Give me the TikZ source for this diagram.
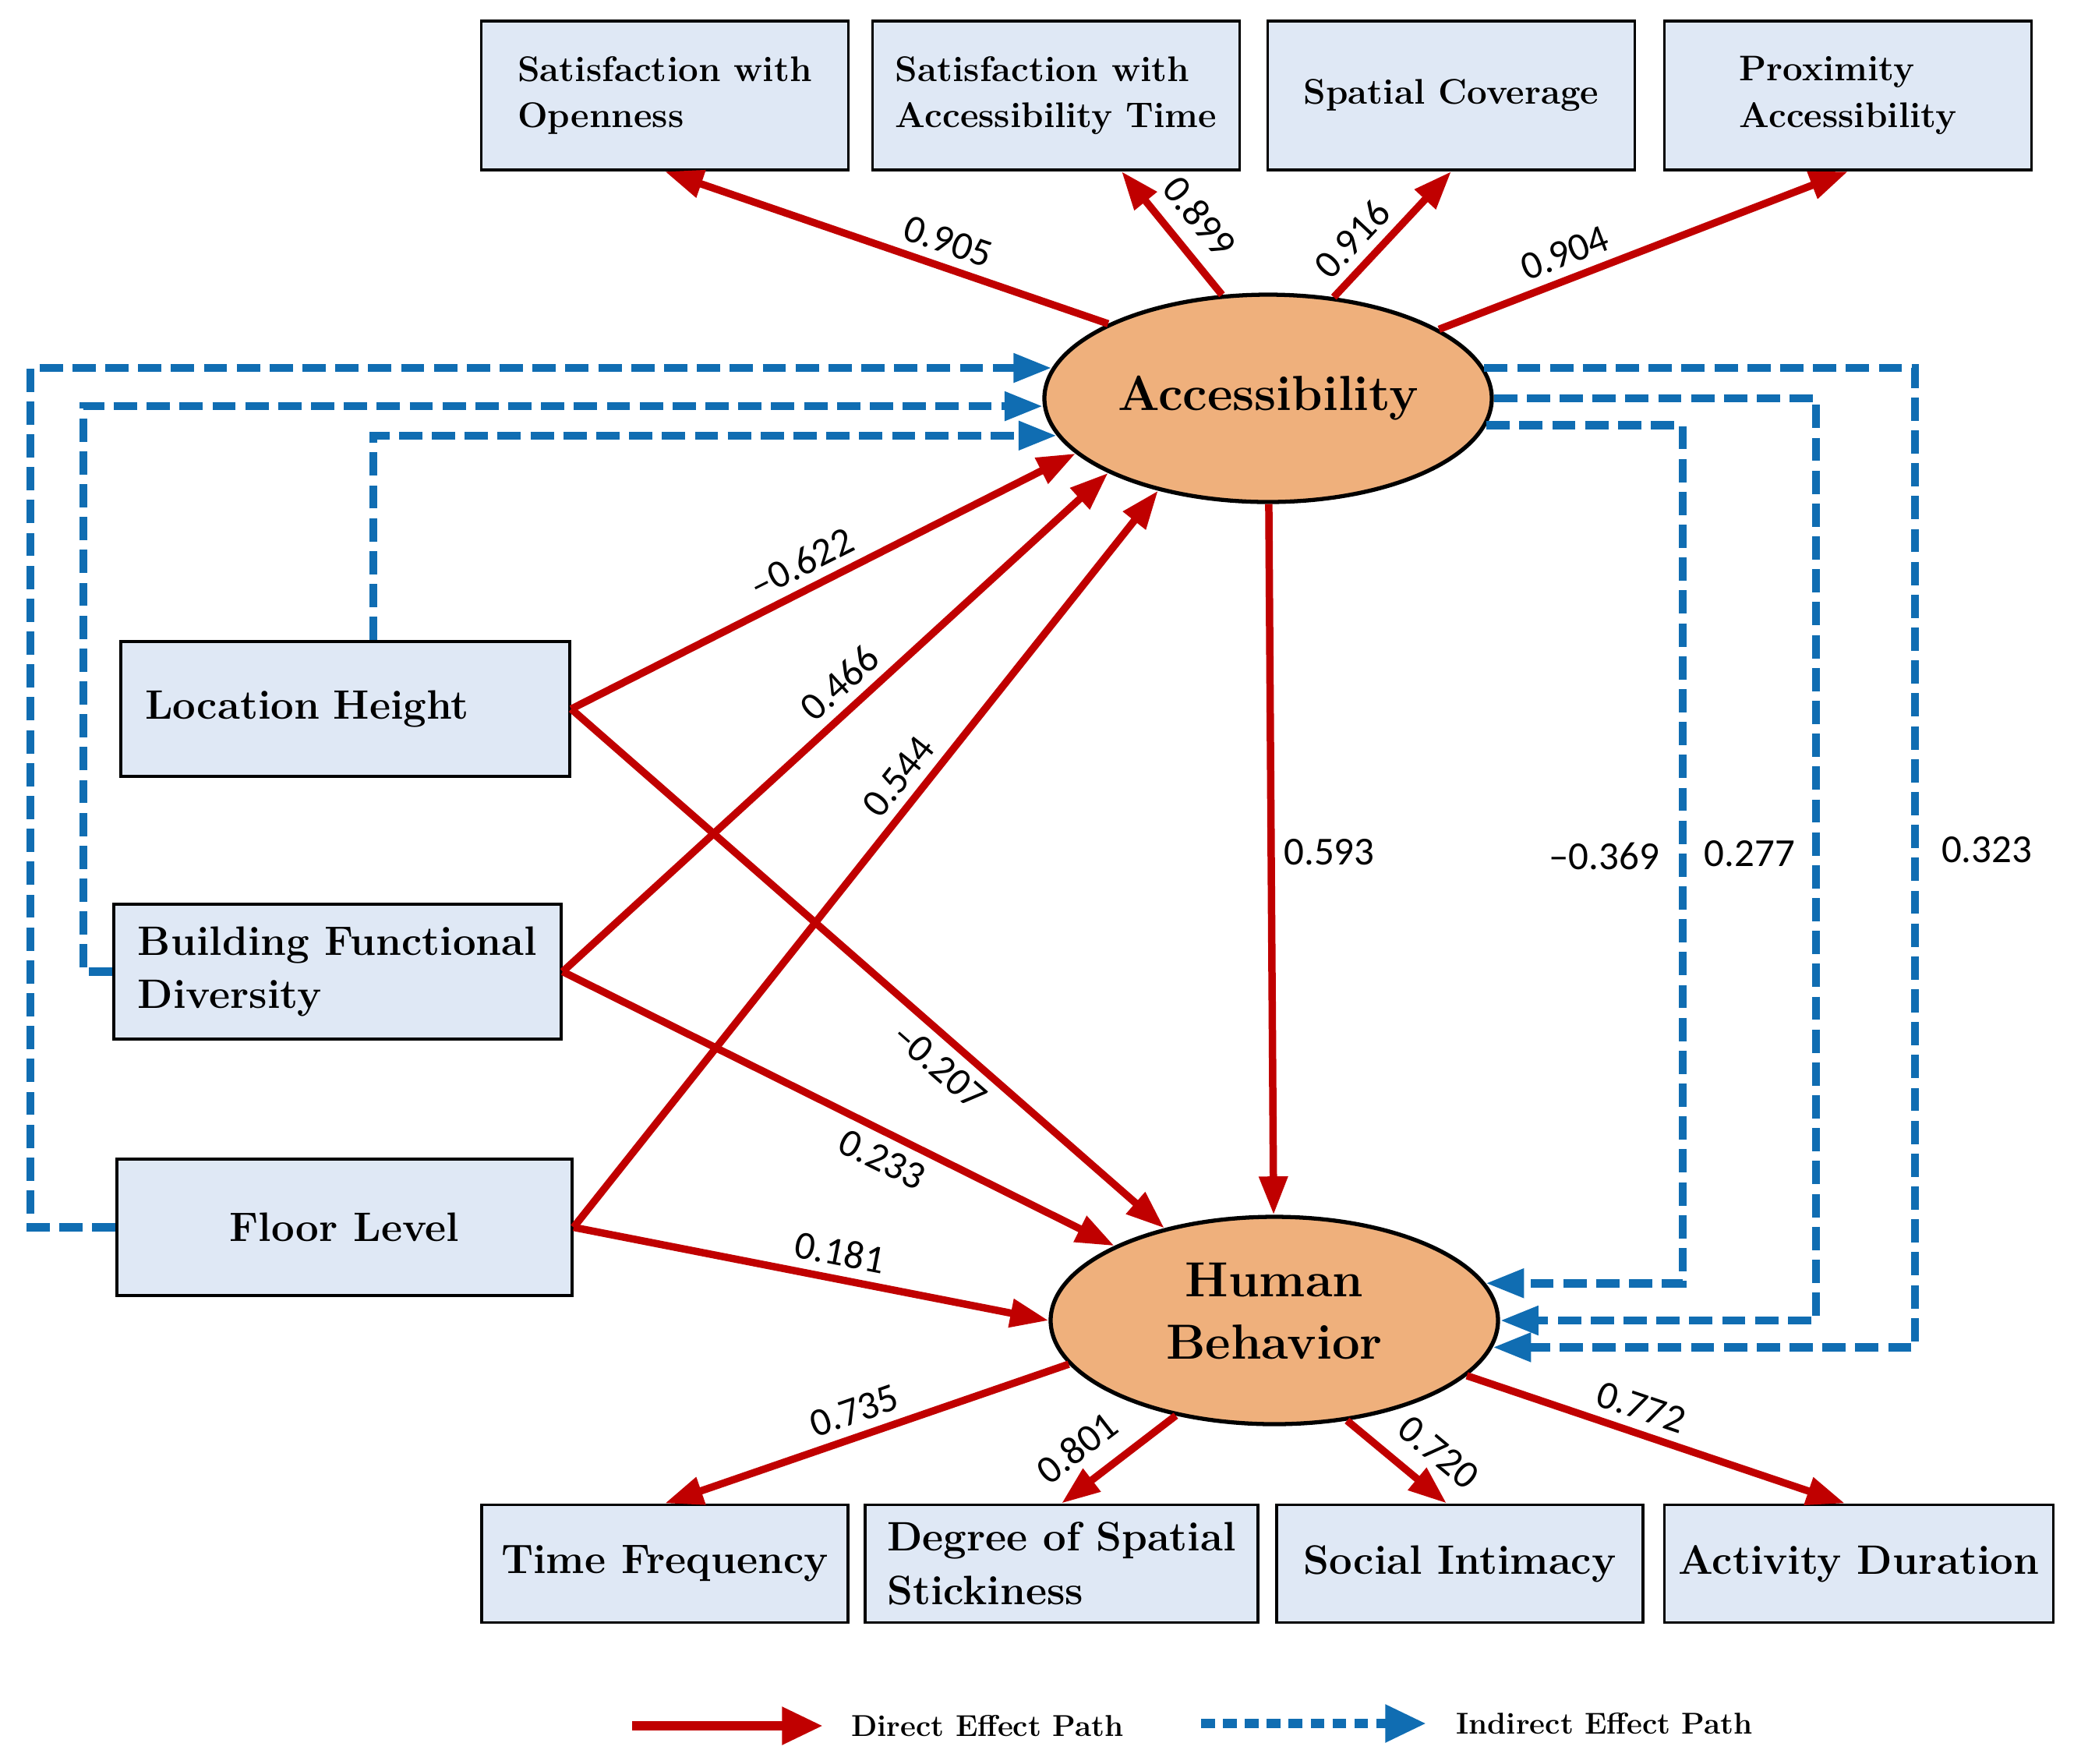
\documentclass[tikz,border=0pt]{standalone}
\usepackage{fontspec}
\newfontfamily\numfont{Carlito}
\usetikzlibrary{arrows.meta, shapes.geometric, positioning, calc}
\definecolor{pathred}{HTML}{C00000}
\definecolor{pathblue}{HTML}{106DB2}
\definecolor{boxblue}{HTML}{DFE8F5}
\definecolor{latentfill}{HTML}{EFB07C}
\tikzset{
	obsbox/.style={draw, line width=1.1pt, fill=boxblue, align=left, inner sep=0pt,
		minimum width=4.71cm, minimum height=1.91cm, font=\fontsize{13}{17}\selectfont\bfseries}
}
\tikzset{
	sidebox/.style={obsbox, minimum height=1.73cm, font=\fontsize{15}{19.5}\selectfont\bfseries}
}
\tikzset{
	latent/.style={ellipse, draw, line width=1.5pt, fill=latentfill, inner sep=0pt, align=center,
		minimum width=5.74cm, minimum height=2.66cm, font=\fontsize{18}{22.7}\selectfont\bfseries}
}
\tikzset{
	direct/.style={pathred, line width=2.7pt, -{Triangle[length=14pt,width=10pt]}},
	indirect/.style={pathblue, line width=3pt, dash pattern=on 8.5pt off 3.5pt, -{Triangle[length=14pt,width=10pt]}}
}
\tikzset{
	coef/.style={text=black, font=\numfont\fontsize{14.5}{17}\selectfont},
	legtext/.style={text=black, font=\fontsize{11}{13}\selectfont\bfseries}
}

\begin{document}
\begin{tikzpicture}
  \useasboundingbox (0,0) rectangle (26.70,-22.62);
  % latent variables
  \node[latent] (acc) at (16.27,-5.11) {Accessibility};
  \node[latent] (hb) at (16.35,-16.94) {Human\\Behavior\rule[-7pt]{0pt}{0pt}};
  % indicators of accessibility
  \foreach \n/\x/\t in {so/8.53/{Satisfaction with\\Openness},
      sat/13.55/{Satisfaction with\\Accessibility Time},
      sc/18.62/{Spatial Coverage}, pa/23.71/{Proximity\\Accessibility}}
    \node[obsbox] (\n) at (\x,-1.225) {\t};
  % indicators of human behavior
  \foreach \n/\x/\w/\t in {tf/8.53/4.70/{Time Frequency},
      dss/13.62/5.04/{Degree of Spatial\\Stickiness},
      si/18.73/4.70/{Social Intimacy}, ad/23.85/4.99/{Activity Duration}}
    \node[sidebox, minimum width=\w cm, minimum height=1.51cm] (\n) at (\x,-20.06) {\t};
  % spatial factors
  \node[sidebox, minimum width=5.76cm, text width=5.14cm] (lh) at (4.43,-9.095) {Location Height};
  \node[sidebox, minimum width=5.74cm] (bfd) at (4.33,-12.465) {Building Functional\\Diversity};
  \node[sidebox, minimum width=5.84cm, minimum height=1.75cm] (fl) at (4.42,-15.745) {Floor Level};

  % loadings
  \draw[direct] (acc.155) -- (so.south) node[coef, sloped, above, pos=0.38] {0.905};
  \draw[direct] (acc.114) -- ([xshift=0.84cm]sat.south) node[coef, sloped, above=2pt, pos=0.47] {0.899};
  \draw[direct] (acc.57) -- (sc.south) node[coef, sloped, above, pos=0.32] {0.916};
  \draw[direct] (acc.22) -- (pa.south) node[coef, sloped, above, pos=0.33] {0.904};
  \draw[direct] (hb.192) -- (tf.north) node[coef, sloped, above, pos=0.51] {0.735};
  \draw[direct] (hb.224) -- (dss.north) node[coef, sloped, above=3pt, pos=0.68] {0.801};
  \draw[direct] (hb.-54) -- ([xshift=-0.17cm]si.north) node[coef, sloped, above=3pt, pos=0.7] {0.720};
  \draw[direct] (hb.-16) -- ([xshift=-0.18cm]ad.north) node[coef, sloped, above, pos=0.44] {0.772};

  % direct effects
  \draw[direct] (lh.east) -- (acc.196) node[coef, sloped, above, pos=0.48] {–0.622};
  \draw[direct] (bfd.east) -- (acc.205) node[coef, sloped, above, pos=0.54] {0.466};
  \draw[direct] (fl.east) -- (acc.220) node[coef, sloped, above, pos=0.59] {0.544};
  \draw[direct] (acc) -- (hb) node[coef, right, pos=0.49] {0.593};
  \draw[direct] (lh.east) -- (hb.140) node[coef, sloped, below, pos=0.65] {–0.207};
  \draw[direct] (bfd.east) -- (hb.155) node[coef, sloped, below, pos=0.60] {0.233};
  \draw[direct] (fl.east) -- (hb.west) node[coef, sloped, above, pos=0.55] {0.181};

  % indirect effects, left
  \draw[indirect] (fl.west) -- ++(-1.09,0) |- (acc.172);
  \draw[indirect] (bfd.west) -- ++(-0.37,0) |- (acc.182);
  \draw[indirect] ([xshift=0.36cm]lh.north) |- (acc.190);
  % indirect effects, right
  \draw[indirect] (acc.8) -| (24.57,-10.90) node[coef, right, xshift=0.17cm] {0.323} |- (hb.353);
  \draw[indirect] (acc.east) -| (23.30,-10.95) node[coef, left, xshift=-0.1cm] {0.277} |- (hb.east);
  \draw[indirect] (acc.-7) -| (21.59,-10.98) node[coef, left, xshift=-0.13cm] {–0.369} |- (hb.10);

  % legend
  \coordinate (dirA) at (8.11,-22.14);
  \coordinate (dirB) at (10.56,-22.14);
  \coordinate (indA) at (15.41,-22.11);
  \coordinate (indB) at (18.30,-22.11);
  \draw[direct, line width=3.5pt, -{Triangle[length=15pt,width=13pt]}] (dirA) -- (dirB);
  \draw[indirect, line width=3.5pt, dash pattern=on 5pt off 3pt, -{Triangle[length=15pt,width=13pt]}] (indA) -- (indB);
  \node[legtext, right] (dirtxt) at (10.80,-22.14) {Direct Effect Path};
  \node[legtext, right] (indtxt) at (18.56,-22.11) {Indirect Effect Path};
\end{tikzpicture}
\end{document}
